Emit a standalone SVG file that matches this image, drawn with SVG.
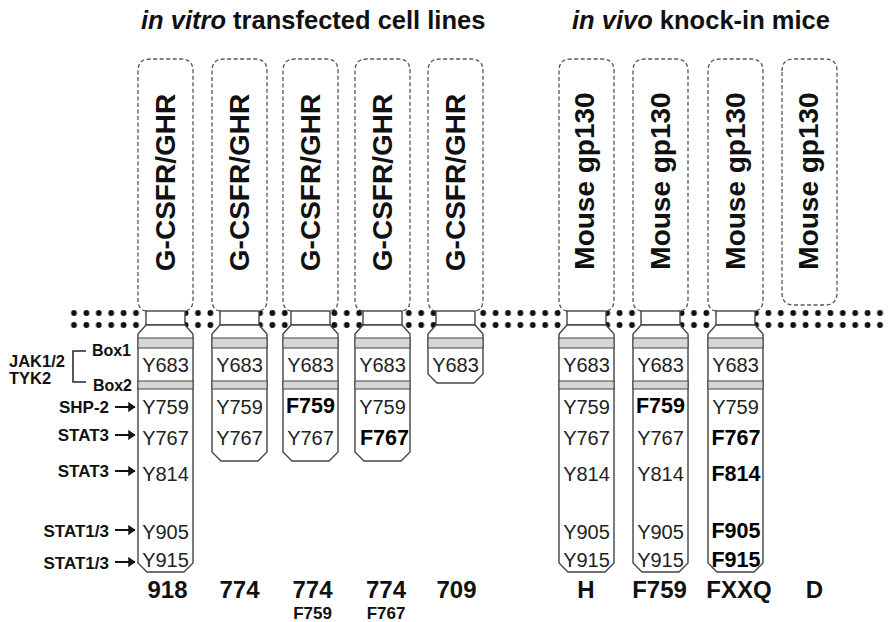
<svg xmlns="http://www.w3.org/2000/svg" xmlns:xlink="http://www.w3.org/1999/xlink" width="888" height="622" viewBox="0 0 888 622">
<style>
text { font-family: "Liberation Sans", Arial, Helvetica, sans-serif; fill: #111; }
.ec { fill: #fff; stroke: #555; stroke-width: 1.3; stroke-dasharray: 4 2.5; }
.tm { fill: #fff; stroke: #444; stroke-width: 1.4; }
.ic { fill: #fff; stroke: #444; stroke-width: 1.4; }
.band { fill: #d6d6d6; stroke: #444; stroke-width: 1; }
.res { font-size: 20px; text-anchor: middle; fill: #222; }
.mut { font-size: 21.5px; font-weight: bold; text-anchor: middle; fill: #000; }
.vert { font-size: 28px; font-weight: bold; text-anchor: middle; }
.lab { font-size: 17px; font-weight: bold; text-anchor: end; }
.lab2 { font-size: 16.5px; font-weight: bold; }
.boxl { font-size: 16px; font-weight: bold; text-anchor: end; }
.bot { font-size: 24px; font-weight: bold; text-anchor: middle; }
.sub { font-size: 17px; font-weight: bold; text-anchor: middle; }
.head { font-size: 25.5px; font-weight: bold; }
.arrow { stroke: #111; stroke-width: 2; fill: none; marker-end: url(#ah); }
</style>
<defs>
<marker id="ah" viewBox="0 0 7 10" refX="6.5" refY="5" markerWidth="3.8" markerHeight="5.2" orient="auto" markerUnits="strokeWidth">
<path d="M0,0 L7,5 L0,10 Z" fill="#111"/>
</marker>
<pattern id="dots" x="67.8" y="307" width="12.4" height="12" patternUnits="userSpaceOnUse">
<circle cx="6.2" cy="6" r="2.9" fill="#111"/>
</pattern>
<path id="ecOpen" class="ec" d="M8,311 C2,310 0,306 0,299 V71 Q0,59 12,59 H43 Q55,59 55,71 V299 C55,306 53,310 47,311"/>
<path id="ecClosed" class="ec" d="M0,71 Q0,59 12,59 H43 Q55,59 55,71 V293 Q55,305 43,305 H12 Q0,305 0,293 Z"/>
<rect id="tm" class="tm" x="8" y="311" width="39" height="14"/>
<path id="icLong" class="ic" d="M8,325 L0,334 V563 L9,572 H46 L55,563 V334 L47,325 Z"/>
<path id="icMid" class="ic" d="M8,325 L0,334 V452 L9,461 H46 L55,452 V334 L47,325 Z"/>
<path id="icShort" class="ic" d="M8,325 L0,334 V374 L9,383 H46 L55,374 V334 L47,325 Z"/>
<rect id="box1" class="band" x="0" y="338" width="55" height="10"/>
<rect id="box2" class="band" x="0" y="381" width="55" height="8"/>
</defs>

<rect width="888" height="622" fill="#fff"/>

<g id="headers">
<text class="head" x="141" y="29"><tspan font-style="italic">in vitro</tspan> transfected cell lines</text>
<text class="head" x="572" y="29"><tspan font-style="italic">in vivo</tspan> knock-in mice</text>
</g>

<g id="membrane">
<rect x="67.8" y="307" width="818.4" height="24" fill="url(#dots)"/>
</g>

<g id="r918" transform="translate(138,0)">
<use href="#ecOpen"/><use href="#tm"/><use href="#icLong"/><use href="#box1"/><use href="#box2"/>
<text class="vert" transform="translate(36.5,182.5) rotate(-90)">G-CSFR/GHR</text>
<text class="res" x="27.5" y="372">Y683</text>
<text class="res" x="27.5" y="414">Y759</text>
<text class="res" x="27.5" y="445">Y767</text>
<text class="res" x="27.5" y="481">Y814</text>
<text class="res" x="27.5" y="539">Y905</text>
<text class="res" x="27.5" y="567">Y915</text>
</g>

<g id="r774" transform="translate(212,0)">
<use href="#ecOpen"/><use href="#tm"/><use href="#icMid"/><use href="#box1"/><use href="#box2"/>
<text class="vert" transform="translate(36.5,182.5) rotate(-90)">G-CSFR/GHR</text>
<text class="res" x="27.5" y="372">Y683</text>
<text class="res" x="27.5" y="414">Y759</text>
<text class="res" x="27.5" y="445">Y767</text>
</g>

<g id="r774F759" transform="translate(283,0)">
<use href="#ecOpen"/><use href="#tm"/><use href="#icMid"/><use href="#box1"/><use href="#box2"/>
<text class="vert" transform="translate(36.5,182.5) rotate(-90)">G-CSFR/GHR</text>
<text class="res" x="27.5" y="372">Y683</text>
<text class="mut" x="27.5" y="413">F759</text>
<text class="res" x="27.5" y="445">Y767</text>
</g>

<g id="r774F767" transform="translate(355,0)">
<use href="#ecOpen"/><use href="#tm"/><use href="#icMid"/><use href="#box1"/><use href="#box2"/>
<text class="vert" transform="translate(36.5,182.5) rotate(-90)">G-CSFR/GHR</text>
<text class="res" x="27.5" y="372">Y683</text>
<text class="res" x="27.5" y="414">Y759</text>
<text class="mut" x="29.5" y="445">F767</text>
</g>

<g id="r709" transform="translate(428,0)">
<use href="#ecOpen"/><use href="#tm"/><use href="#icShort"/><use href="#box1"/>
<text class="vert" transform="translate(36.5,182.5) rotate(-90)">G-CSFR/GHR</text>
<text class="res" x="27.5" y="372">Y683</text>
</g>

<g id="mH" transform="translate(559,0)">
<use href="#ecOpen"/><use href="#tm"/><use href="#icLong"/><use href="#box1"/><use href="#box2"/>
<text class="vert" transform="translate(35,181) rotate(-90)">Mouse gp130</text>
<text class="res" x="27.5" y="372">Y683</text>
<text class="res" x="27.5" y="414">Y759</text>
<text class="res" x="27.5" y="445">Y767</text>
<text class="res" x="27.5" y="481">Y814</text>
<text class="res" x="27.5" y="539">Y905</text>
<text class="res" x="27.5" y="567">Y915</text>
</g>

<g id="mF759" transform="translate(633,0)">
<use href="#ecOpen"/><use href="#tm"/><use href="#icLong"/><use href="#box1"/><use href="#box2"/>
<text class="vert" transform="translate(36.5,181) rotate(-90)">Mouse gp130</text>
<text class="res" x="27.5" y="372">Y683</text>
<text class="mut" x="27.5" y="413">F759</text>
<text class="res" x="27.5" y="445">Y767</text>
<text class="res" x="27.5" y="481">Y814</text>
<text class="res" x="27.5" y="539">Y905</text>
<text class="res" x="27.5" y="567">Y915</text>
</g>

<g id="mFXXQ" transform="translate(708,0)">
<use href="#ecOpen"/><use href="#tm"/><use href="#icLong"/><use href="#box1"/><use href="#box2"/>
<text class="vert" transform="translate(36.5,181) rotate(-90)">Mouse gp130</text>
<text class="res" x="27.5" y="372">Y683</text>
<text class="res" x="27.5" y="414">Y759</text>
<text class="mut" x="28" y="445">F767</text>
<text class="mut" x="28" y="481">F814</text>
<text class="mut" x="28" y="538">F905</text>
<text class="mut" x="28" y="567">F915</text>
</g>

<g id="mD" transform="translate(782,0)">
<use href="#ecClosed"/>
<text class="vert" transform="translate(36,181) rotate(-90)">Mouse gp130</text>
</g>

<g id="labels">
<text class="lab2" x="9" y="367">JAK1/2</text>
<text class="lab2" x="9" y="384">TYK2</text>
<text class="boxl" x="131" y="356">Box1</text>
<text class="boxl" x="132" y="391">Box2</text>
<text class="lab" x="109" y="413">SHP-2</text>
<text class="lab" x="109" y="441">STAT3</text>
<text class="lab" x="109" y="477">STAT3</text>
<text class="lab" x="109" y="537">STAT1/3</text>
<text class="lab" x="109" y="569">STAT1/3</text>
</g>

<g id="connectors">
<path d="M86,351 H73 V382 H86" fill="none" stroke="#222" stroke-width="1.5"/>
<line class="arrow" x1="115" y1="407" x2="135" y2="407"/>
<line class="arrow" x1="115" y1="435" x2="135" y2="435"/>
<line class="arrow" x1="115" y1="471" x2="135" y2="471"/>
<line class="arrow" x1="115" y1="530" x2="135" y2="530"/>
<line class="arrow" x1="115" y1="562" x2="135" y2="562"/>
</g>

<g id="names">
<text class="bot" x="167.5" y="597.5">918</text>
<text class="bot" x="239.5" y="597.5">774</text>
<text class="bot" x="312.5" y="597.5">774</text>
<text class="sub" x="312.5" y="618.5">F759</text>
<text class="bot" x="386" y="597.5">774</text>
<text class="sub" x="386" y="618.5">F767</text>
<text class="bot" x="456.5" y="597.5">709</text>
<text class="bot" x="586" y="597.5">H</text>
<text class="bot" x="659.5" y="597.5">F759</text>
<text class="bot" x="739" y="597.5">FXXQ</text>
<text class="bot" x="814.5" y="597.5">D</text>
</g>
</svg>
